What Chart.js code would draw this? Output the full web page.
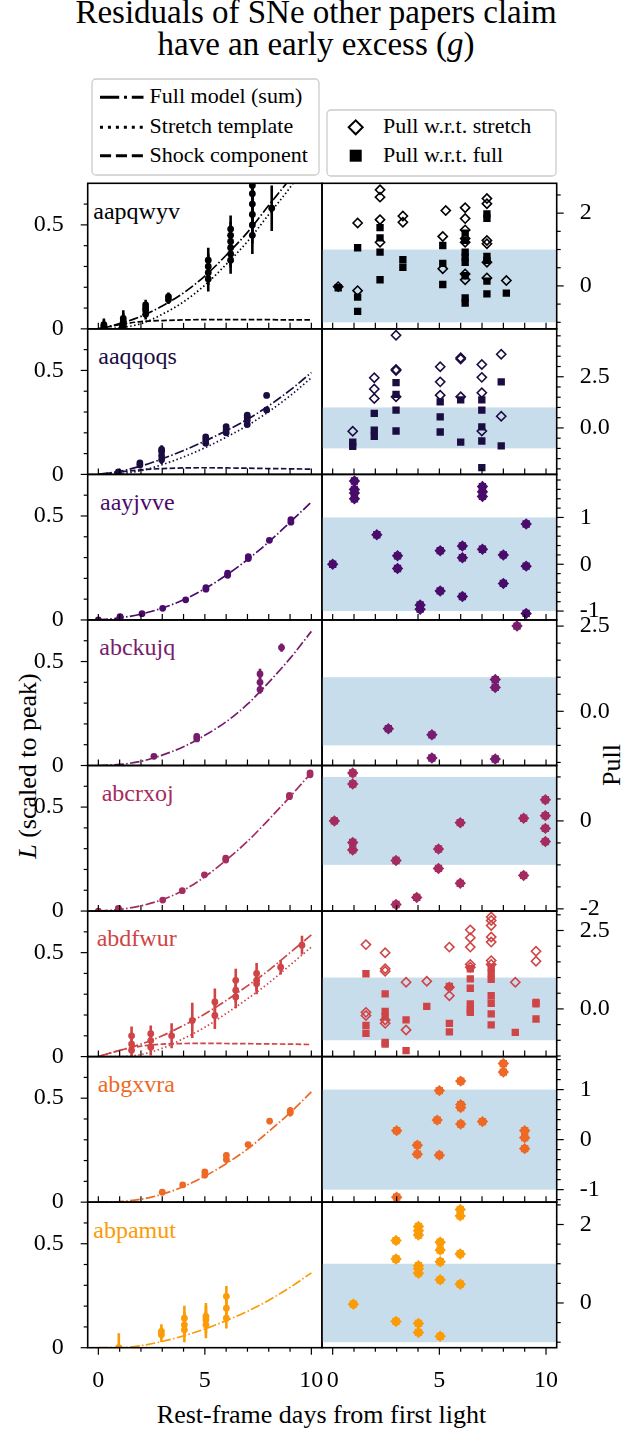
<!DOCTYPE html>
<html><head><meta charset="utf-8">
<script src="https://cdn.jsdelivr.net/npm/chart.js"></script>
<style>
html,body{margin:0;padding:0;background:#fff;}
body{width:639px;height:1433px;position:relative;overflow:hidden;font-family:'Liberation Serif','DejaVu Serif',serif;color:#000;}
canvas{position:absolute;}
.t{position:absolute;white-space:nowrap;color:#000;}
</style></head><body>
<div class="t" style="left:0;width:632px;top:-3.8px;font-size:33px;line-height:32px;text-align:center">Residuals of SNe other papers claim<br>have an early excess (<i>g</i>)</div>
<svg style="position:absolute;left:0;top:0" width="639" height="190">
  <rect x="92" y="79" width="227" height="96" rx="4" ry="4" fill="#fff" stroke="#cccccc" stroke-width="1.3"/>
  <line x1="100" y1="97.3" x2="143.5" y2="97.3" stroke="#000" stroke-width="3" stroke-dasharray="19.2 4.8 3 4.8"/>
  <line x1="100" y1="127.3" x2="143.5" y2="127.3" stroke="#000" stroke-width="3" stroke-dasharray="3 4.95"/>
  <line x1="100" y1="155.7" x2="143.5" y2="155.7" stroke="#000" stroke-width="3" stroke-dasharray="11.1 4.8"/>
  <rect x="327" y="110" width="229" height="66" rx="4" ry="4" fill="#fff" stroke="#cccccc" stroke-width="1.3"/>
  <polygon points="348.7,127.3 355.7,120.3 362.7,127.3 355.7,134.3" fill="none" stroke="#000" stroke-width="2"/>
  <rect x="349.7" y="149.7" width="12" height="12" fill="#000"/>
</svg>
<div class="t" style="left:149.6px;top:84.9px;font-size:22px;line-height:22px">Full model (sum)</div>
<div class="t" style="left:149.6px;top:114.9px;font-size:22px;line-height:22px">Stretch template</div>
<div class="t" style="left:149.6px;top:144.1px;font-size:22px;line-height:22px">Shock component</div>
<div class="t" style="left:383px;top:114.9px;font-size:22px;line-height:22px">Pull w.r.t. stretch</div>
<div class="t" style="left:383px;top:144.1px;font-size:22px;line-height:22px">Pull w.r.t. full</div>
<div class="t" style="left:321.5px;top:1402.2px;font-size:26px;line-height:26px;transform:translateX(-50%)">Rest-frame days from first light</div>
<div class="t" style="left:28px;top:766px;font-size:26px;line-height:26px;transform:translate(-50%,-50%) rotate(-90deg)"><i>L</i> (scaled to peak)</div>
<div class="t" style="left:612px;top:765px;font-size:26px;line-height:26px;transform:translate(-50%,-50%) rotate(-90deg)">Pull</div>
<div id="names"></div>
<script>
// ---------------- DATA ----------------
const names = ['aapqwyv','aaqqoqs','aayjvve','abckujq','abcrxoj','abdfwur','abgxvra','abpamut'];
const colors = ['#000004','#1b0c41','#4a0c6b','#781c6d','#a52c60','#cf4446','#ed6925','#fb9b06'];
const days = [0,1,2,3,4,5,6,7,8,9,10];
const dayTicks = [0,1,2,3,4,5,6,7,8,9,10];
const dayLabels = {'0':'0','5':'5','10':'10'};
const lumTicks = [0,0.1,0.2,0.3,0.4,0.5,0.6];
const lumLabels = {'0':'0','0.5':'0.5'};
const band = [-1, 1];

// Row 1: aapqwyv
const r1_t   = [0.26,0.26, 1.17,1.17,1.17,1.17, 2.22,2.22,2.22,2.22, 3.29,3.29, 5.16,5.16,5.16,5.16, 6.21,6.21,6.21,6.21,6.21,6.21, 7.23,7.23,7.23,7.23,7.23,7.23, 8.14];
const r1_L   = [0.01,0.02, 0.01,0.02,0.035,0.05, 0.07,0.09,0.10,0.115, 0.14,0.155, 0.24,0.27,0.30,0.33, 0.33,0.36,0.39,0.42,0.45,0.48, 0.45,0.50,0.55,0.60,0.65,0.69, 0.58];
const r1_err = [0.03,0.03, 0.04,0.04,0.04,0.04, 0.025,0.025,0.025,0.025, 0.02,0.02, 0.06,0.06,0.06,0.06, 0.065,0.065,0.065,0.065,0.065,0.065, 0.09,0.09,0.09,0.09,0.09,0.09, 0.11];
const r1_full    = [0, 0.025, 0.06, 0.11, 0.173, 0.254, 0.354, 0.464, 0.594, 0.723, 0.873];
const r1_stretch = [0, 0.005, 0.025, 0.07, 0.13, 0.21, 0.31, 0.42, 0.55, 0.68, 0.83];
const r1_shock   = [0, 0.02, 0.035, 0.04, 0.043, 0.044, 0.044, 0.044, 0.044, 0.043, 0.043];
const r1_dia_t = [0.26, 1.17,1.17, 2.22,2.22,2.22,2.22, 3.29,3.29, 5.3,5.16,5.16, 6.21,6.21,6.21,6.21,6.21,6.21,6.21, 7.23,7.23,7.23,7.23,7.23,7.23, 8.14];
const r1_dia   = [-0.02, 1.73,-0.13, 2.64,2.44,1.82,1.2, 1.92,1.75, 2.07,1.36,0.47, 2.15,1.85,1.54,1.3,1.2,0.33,0.17, 2.4,2.26,1.25,1.16,0.65,0.22, 0.15];
const r1_sq_t  = [0.26, 1.17,1.17,1.17, 2.22,2.22,2.22,2.22, 3.29,3.29, 5.16,5.16,5.16, 6.21,6.21,6.21,6.21,6.21,6.21,6.21,6.21, 7.23,7.23,7.23,7.23,7.23,7.23, 8.14];
const r1_sq    = [-0.05, 1.05,-0.31,-0.7, 1.6,1.32,0.93,0.17, 0.72,0.51, 1.11,0.62,0.04, 1.45,1.25,0.93,0.79,0.65,0.28,-0.33,-0.47, 1.98,1.86,0.81,0.7,0.13,-0.22, -0.2];
const r1_range = [-1.18, 2.82];
const r1_pticks = [-1,-0.5,0,0.5,1,1.5,2,2.5];
const r1_plabels = {'0':'0','2':'2'};

// Row 2: aaqqoqs
const r2_t   = [0.94,0.94, 1.95,1.95, 2.97,2.97,2.97,2.97, 5.04,5.04,5.04, 6.0,6.0,6.0, 6.99,6.99,6.99,6.99, 7.9,7.9];
const r2_L   = [0.005,0.012, 0.045,0.055, 0.07,0.09,0.11,0.12, 0.15,0.165,0.18, 0.2,0.215,0.23, 0.24,0.26,0.275,0.285, 0.31,0.38];
const r2_err = [0.01,0.01, 0.012,0.012, 0.02,0.02,0.02,0.02, 0.012,0.012,0.012, 0.012,0.012,0.012, 0.012,0.012,0.012,0.012, 0.012,0.012];
const r2_full    = [0, 0.015, 0.04, 0.075, 0.115, 0.16, 0.21, 0.265, 0.33, 0.405, 0.49];
const r2_stretch = [0, 0.003, 0.018, 0.047, 0.084, 0.128, 0.179, 0.235, 0.302, 0.378, 0.465];
const r2_shock   = [0, 0.012, 0.022, 0.028, 0.031, 0.032, 0.031, 0.03, 0.028, 0.027, 0.025];
const r2_dia_t = [0.94, 1.95,1.95,1.95, 2.97,2.97,2.97,2.97, 5.04,5.04,5.04, 6.0,6.0,6.0, 6.99,6.99,6.99,6.99, 7.9,7.9];
const r2_dia   = [-0.16, 2.45,1.9,1.44, 4.53,2.86,2.8,1.52, 2.99,2.25,1.6, 3.43,3.37,1.52, 3.1,2.47,1.72,-0.15, 3.6,0.57];
const r2_sq_t  = [0.94,0.94, 1.95,1.95,1.95, 2.97,2.97,2.97,2.97, 5.04,5.04,5.04, 6.0,6.0, 6.99,6.99,6.99,6.99,6.99, 7.9,7.9];
const r2_sq    = [-0.69,-0.9, 0.71,-0.11,-0.41, 2.21,1.64,0.87,-0.15, 1.27,0.54,-0.2, 1.37,-0.69, 1.37,0.87,0.05,-0.64,-1.94, 2.25,-0.88];
const r2_range = [-2.27, 4.84];
const r2_pticks = [-2,-1.5,-1,-0.5,0,0.5,1,1.5,2,2.5,3,3.5,4,4.5];
const r2_plabels = {'0':'0.0','2.5':'2.5'};

// Row 3: aayjvve
const r3_t   = [0.0, 1.02,1.02, 2.05, 3.02, 4.1, 5.05,5.05, 6.07,6.07, 7.04,7.04, 8.03, 9.04,9.04];
const r3_L   = [0.0, 0.013,0.016, 0.03, 0.056, 0.097, 0.148,0.155, 0.215,0.225, 0.295,0.305, 0.383, 0.47,0.482];
const r3_err = [0.004, 0.004,0.004, 0.004, 0.005, 0.006, 0.008,0.008, 0.01,0.01, 0.01,0.01, 0.008, 0.01,0.01];
const r3_full = [0, 0.01, 0.028, 0.057, 0.097, 0.15, 0.215, 0.29, 0.375, 0.47, 0.567];
const r3_pull_t = [0.0, 1.02,1.02,1.02,1.02, 2.07, 3.04,3.04, 4.1,4.1, 5.04,5.04, 6.08,6.08,6.08, 7.02,7.02,7.02,7.02, 8.0,8.0, 9.07,9.07,9.07];
const r3_pull   = [0.0, 1.78,1.6,1.52,1.4, 0.63, 0.18,-0.09, -0.87,-0.96, 0.29,-0.57, 0.39,0.14,-0.69, 1.66,1.55,1.45,0.32, 0.2,-0.41, 0.86,-0.04,-1.05];
const r3_range = [-1.19, 1.92];
const r3_pticks = [-1,-0.8,-0.6,-0.4,-0.2,0,0.2,0.4,0.6,0.8,1,1.2,1.4,1.6,1.8];
const r3_plabels = {'-1':'-1','0':'0','1':'1'};

// Row 4: abckujq
const r4_t   = [2.61, 4.62,4.62, 7.59,7.59,7.59, 8.6];
const r4_L   = [0.044, 0.128,0.14, 0.44,0.40,0.365, 0.567];
const r4_err = [0.008, 0.015,0.015, 0.025,0.025,0.02, 0.02];
const r4_full = [0, 0.005, 0.02, 0.05, 0.09, 0.145, 0.21, 0.295, 0.4, 0.515, 0.645];
const r4_pull_t = [2.61, 4.65,4.65, 7.62,7.62,7.62, 8.64];
const r4_pull   = [-0.51, -0.69,-1.37, 0.93,0.7,-1.4, 2.5];
const r4_range = [-1.59, 2.68];
const r4_pticks = [-1.5,-1,-0.5,0,0.5,1,1.5,2,2.5];
const r4_plabels = {'0':'0.0','2.5':'2.5'};

// Row 5: abcrxoj
const r5_t   = [0.0, 0.94,0.94, 3.02, 3.94, 4.98, 5.98,5.98, 8.97,8.97, 9.94,9.94];
const r5_L   = [0.0, 0.01,0.013, 0.053, 0.098, 0.174, 0.245,0.255, 0.55,0.556, 0.655,0.665];
const r5_err = [0.004, 0.004,0.004, 0.006, 0.006, 0.008, 0.01,0.01, 0.01,0.01, 0.01,0.01];
const r5_full = [0, 0.008, 0.025, 0.055, 0.1, 0.165, 0.245, 0.335, 0.44, 0.55, 0.665];
const r5_pull_t = [0.08, 0.94,0.94,0.94,0.94, 2.97,2.97, 3.94, 4.96,4.96, 5.98,5.98, 8.95,8.95, 9.97,9.97,9.97,9.97];
const r5_pull   = [0.0, 1.09,0.84,-0.49,-0.66, -0.9,-1.9, -1.74, -0.64,-1.08, -0.04,-1.42, 0.06,-1.24, 0.48,0.12,-0.17,-0.47];
const r5_range = [-2.05, 1.26];
const r5_pticks = [-2,-1.5,-1,-0.5,0,0.5,1];
const r5_plabels = {'-2':'-2','0':'0'};

// Row 6: abdfwur
const r6_t   = [1.56,1.56,1.56, 2.46,2.46,2.46, 3.44, 4.41, 5.47,5.47, 6.45,6.45,6.45, 7.43,7.43,7.43, 8.56, 9.56];
const r6_L   = [0.1,0.06,0.03, 0.11,0.077,0.045, 0.1, 0.174, 0.263,0.198, 0.367,0.319,0.287, 0.4,0.367,0.35, 0.43, 0.536];
const r6_err = [0.045,0.045,0.045, 0.04,0.04,0.04, 0.06, 0.085, 0.065,0.065, 0.055,0.055,0.055, 0.05,0.05,0.05, 0.035, 0.045];
const r6_full    = [0, 0.03, 0.06, 0.1, 0.15, 0.205, 0.27, 0.34, 0.415, 0.5, 0.585];
const r6_stretch = [0, 0, 0.01, 0.04, 0.087, 0.141, 0.207, 0.278, 0.354, 0.44, 0.527];
const r6_shock   = [0, 0.03, 0.05, 0.06, 0.063, 0.064, 0.063, 0.062, 0.061, 0.06, 0.058];
const r6_dia_t = [1.56,1.56,1.56, 2.46,2.46,2.46,2.46,2.46, 3.44,3.44, 4.41, 5.47,5.47,5.47, 6.45,6.45,6.45,6.45,6.45, 7.43,7.43,7.43,7.43,7.43,7.43,7.43, 8.56, 9.53,9.53];
const r6_dia   = [2.05,-0.11,-0.21, 1.79,1.28,1.2,-0.35,-0.46, 0.85,-0.67, 0.88, 1.97,0.69,0.42, 2.52,2.27,1.97,1.42,1.33, 2.93,2.82,2.66,2.29,2.13,1.54,1.42, 0.85, 1.84,1.52];
const r6_sq_t  = [1.56,1.56,1.56, 2.46,2.46,2.46,2.46,2.46, 3.44,3.44, 4.41, 5.47,5.47,5.47, 6.45,6.45,6.45,6.45,6.45,6.45, 7.43,7.43,7.43,7.43,7.43,7.43,7.43, 8.56, 9.53,9.53,9.53];
const r6_sq    = [1.12,-0.53,-0.78, 0.48,-0.08,-0.25,-1.07,-1.12, -0.35,-1.33, 0.08, 0.72,-0.46,-0.73, 1.28,0.96,0.66,0.16,-0.03,-0.11, 1.33,1.14,0.94,0.42,0.18,-0.16,-0.51, -0.75, 0.21,0.16,-0.32];
const r6_range = [-1.52, 3.12];
const r6_pticks = [-1.5,-1,-0.5,0,0.5,1,1.5,2,2.5,3];
const r6_plabels = {'0':'0.0','2.5':'2.5'};

// Row 7: abgxvra
const r7_t   = [3.0, 3.96, 5.0,5.0, 6.01,6.01, 7.03, 8.04, 9.01,9.01];
const r7_L   = [0.048, 0.083, 0.13,0.145, 0.205,0.225, 0.277, 0.39, 0.43,0.44];
const r7_err = [0.015, 0.01, 0.015,0.015, 0.015,0.015, 0.012, 0.015, 0.018,0.018];
const r7_full = [0, 0.003, 0.014, 0.038, 0.075, 0.125, 0.185, 0.255, 0.34, 0.43, 0.53];
const r7_pull_t = [3.0,3.0, 3.97,3.97, 4.9,5.0,5.0, 6.0,6.0,6.0,6.0, 7.02, 8.0,8.0, 9.0,9.0,9.0];
const r7_pull   = [0.18,-1.15, -0.11,-0.29, 0.39,0.98,-0.31, 1.17,0.7,0.64,0.31, 0.36, 1.52,1.35, 0.18,0.04,-0.18];
const r7_range = [-1.25, 1.66];
const r7_pticks = [-1.2,-1,-0.8,-0.6,-0.4,-0.2,0,0.2,0.4,0.6,0.8,1,1.2,1.4,1.6];
const r7_plabels = {'-1':'-1','0':'0','1':'1'};

// Row 8: abpamut
const r8_t   = [0.96, 2.96,2.96, 4.04,4.04,4.04, 5.05,5.05,5.05, 6.01,6.01,6.01];
const r8_L   = [0.0, 0.078,0.062, 0.142,0.11,0.086, 0.15,0.134,0.11, 0.247,0.19,0.142];
const r8_err = [0.07, 0.035,0.035, 0.06,0.06,0.06, 0.065,0.065,0.065, 0.05,0.05,0.05];
const r8_full = [0, 0, 0.01, 0.03, 0.057, 0.09, 0.13, 0.175, 0.228, 0.29, 0.36];
const r8_pull_t = [0.97, 2.97,2.97,2.97, 4.02,4.02,4.02,4.02,4.02,4.02,4.02,4.02, 5.04,5.04,5.04,5.04,5.04, 5.98,5.98,5.98,5.98];
const r8_pull   = [-0.03, 1.59,1.12,-0.47, 1.95,1.84,1.73,0.95,0.87,0.76,-0.52,-0.75, 1.55,1.35,1.05,0.59,-0.85, 2.38,2.22,1.25,0.48];
const r8_range = [-1.14, 2.57];
const r8_pticks = [-1,-0.5,0,0.5,1,1.5,2,2.5];
const r8_plabels = {'0':'0','2':'2'};

// ---------------- LAYOUT / STYLE ----------------
const ROW0 = 183.3, ROWH = 145.55;
const LX0 = 87.7, MID = 322.0, RX1 = 556.7;
const nameX = [93.3, 98.3, 100, 99.3, 101.7, 96.7, 97.7, 93.3];
const FONT = "'Liberation Serif', 'DejaVu Serif', serif";
Chart.defaults.font.family = FONT;
Chart.defaults.font.size = 24;
Chart.defaults.color = '#000';
Chart.defaults.animation = false;

const DASHDOT = [9.6, 2.4, 1.5, 2.4], DOTTED = [1.5, 2.5], DASHED = [5.55, 2.4];

const panels = [
  {t:r1_t,L:r1_L,err:r1_err,full:r1_full,stretch:r1_stretch,shock:r1_shock,diaT:r1_dia_t,dia:r1_dia,sqT:r1_sq_t,sq:r1_sq,range:r1_range,pt:r1_pticks,pl:r1_plabels},
  {t:r2_t,L:r2_L,err:r2_err,full:r2_full,stretch:r2_stretch,shock:r2_shock,diaT:r2_dia_t,dia:r2_dia,sqT:r2_sq_t,sq:r2_sq,range:r2_range,pt:r2_pticks,pl:r2_plabels},
  {t:r3_t,L:r3_L,err:r3_err,full:r3_full,diaT:r3_pull_t,dia:r3_pull,sqT:r3_pull_t,sq:r3_pull,range:r3_range,pt:r3_pticks,pl:r3_plabels},
  {t:r4_t,L:r4_L,err:r4_err,full:r4_full,diaT:r4_pull_t,dia:r4_pull,sqT:r4_pull_t,sq:r4_pull,range:r4_range,pt:r4_pticks,pl:r4_plabels},
  {t:r5_t,L:r5_L,err:r5_err,full:r5_full,diaT:r5_pull_t,dia:r5_pull,sqT:r5_pull_t,sq:r5_pull,range:r5_range,pt:r5_pticks,pl:r5_plabels},
  {t:r6_t,L:r6_L,err:r6_err,full:r6_full,stretch:r6_stretch,shock:r6_shock,diaT:r6_dia_t,dia:r6_dia,sqT:r6_sq_t,sq:r6_sq,range:r6_range,pt:r6_pticks,pl:r6_plabels},
  {t:r7_t,L:r7_L,err:r7_err,full:r7_full,diaT:r7_pull_t,dia:r7_pull,sqT:r7_pull_t,sq:r7_pull,range:r7_range,pt:r7_pticks,pl:r7_plabels},
  {t:r8_t,L:r8_L,err:r8_err,full:r8_full,diaT:r8_pull_t,dia:r8_pull,sqT:r8_pull_t,sq:r8_pull,range:r8_range,pt:r8_pticks,pl:r8_plabels}
];

const mpl = {
  id: 'mpl',
  beforeDatasetsDraw(chart, args, o) {
    const {ctx, chartArea: a, scales: {x, y}} = chart;
    ctx.save();
    ctx.beginPath(); ctx.rect(a.left, a.top, a.right - a.left, a.bottom - a.top); ctx.clip();
    if (o.band) {
      const y1 = y.getPixelForValue(o.band[1]), y0 = y.getPixelForValue(o.band[0]);
      ctx.fillStyle = '#c7ddec';
      ctx.fillRect(a.left, y1, a.right - a.left, y0 - y1);
    }
    chart.data.datasets.forEach(ds => {
      if (!ds.errors) return;
      ctx.strokeStyle = ds.backgroundColor; ctx.lineWidth = 2.6;
      ds.data.forEach((p, k) => {
        const e = ds.errors[k], px = x.getPixelForValue(p.x);
        ctx.beginPath();
        ctx.moveTo(px, y.getPixelForValue(p.y - e));
        ctx.lineTo(px, y.getPixelForValue(p.y + e));
        ctx.stroke();
      });
    });
    ctx.restore();
  },
  afterDraw(chart, args, o) {
    const {ctx, chartArea: a, scales: {x, y}} = chart;
    ctx.save();
    ctx.strokeStyle = '#000'; ctx.lineWidth = 1.2;
    const ln = (x0, y0, x1, y1) => { ctx.beginPath(); ctx.moveTo(x0, y0); ctx.lineTo(x1, y1); ctx.stroke(); };
    x.ticks.forEach(t => {
      const px = x.getPixelForValue(t.value);
      const major = o.xMajor.includes(t.value);
      if (o.xDir === 'out') ln(px, a.bottom, px, a.bottom + (major ? 7 : 4));
      else ln(px, a.bottom, px, a.bottom - 6);
    });
    y.ticks.forEach(t => {
      const py = y.getPixelForValue(t.value);
      const len = o.yMajor.includes(t.value) ? 7 : 4;
      if (o.ySide === 'left') ln(a.left, py, a.left - len, py);
      else ln(a.right, py, a.right + len, py);
    });
    ctx.lineWidth = 1.6;
    ctx.strokeRect(a.left, a.top, a.right - a.left, a.bottom - a.top);
    ctx.restore();
  }
};

function mkCanvas(left, top, w, h) {
  const c = document.createElement('canvas');
  c.width = w; c.height = h;
  c.style.left = left + 'px'; c.style.top = top + 'px';
  c.style.width = w + 'px'; c.style.height = h + 'px';
  document.body.appendChild(c);
  return c;
}
function zeroPad(s) { s.paddingLeft = 0; s.paddingRight = 0; s.paddingTop = 0; s.paddingBottom = 0; }
function curve(vals, color, dash) {
  return {data: days.map((d, k) => ({x: d, y: vals[k]})), showLine: true, pointRadius: 0,
    borderColor: color, backgroundColor: color, borderWidth: 1.7, borderDash: dash,
    cubicInterpolationMode: 'monotone', fill: false, order: 1};
}
function xScale(isBottom, xH) {
  return {type: 'linear', position: 'bottom', min: -0.5, max: 10.5,
    grid: {display: false}, border: {display: false},
    ticks: {display: isBottom, autoSkip: false, maxRotation: 0, minRotation: 0, padding: 11,
      font: {family: FONT, size: 24}, color: '#000',
      callback: v => dayLabels[String(v)] || ''},
    afterBuildTicks: s => { s.ticks = dayTicks.map(v => ({value: v})); },
    afterFit: s => { s.height = xH; zeroPad(s); }};
}

panels.forEach((p, i) => {
  const color = colors[i];
  const top = ROW0 + i * ROWH, bot = top + ROWH;
  const cTop = Math.floor(top) - 14;
  const cH = Math.ceil(bot) - cTop + 46;
  const xH = cTop + cH - bot;
  const padTop = top - cTop;
  const isBottom = i === 7;

  // left: light curve
  const lds = [{data: p.t.map((x, k) => ({x, y: p.L[k]})), errors: p.err, pointStyle: 'circle',
    pointRadius: 3.4, backgroundColor: color, borderWidth: 0, order: 0}];
  lds.push(curve(p.full, color, DASHDOT));
  if (p.stretch) lds.push(curve(p.stretch, color, DOTTED));
  if (p.shock) lds.push(curve(p.shock, color, DASHED));
  const lW = 345;
  new Chart(mkCanvas(0, cTop, lW, cH), {
    type: 'scatter', data: {datasets: lds}, plugins: [mpl],
    options: {responsive: false, animation: false, devicePixelRatio: 1, events: [],
      layout: {autoPadding: false, padding: {left: 0, right: lW - MID, top: padTop, bottom: 0}},
      plugins: {legend: {display: false}, tooltip: {enabled: false},
        mpl: {band: null, xDir: isBottom ? 'out' : 'in', xMajor: [0, 5, 10], ySide: 'left', yMajor: [0, 0.5]}},
      scales: {
        x: xScale(isBottom, xH),
        y: {type: 'linear', position: 'left', min: 0, max: 0.7,
          grid: {display: false}, border: {display: false},
          ticks: {autoSkip: false, padding: 16, font: {family: FONT, size: 24}, color: '#000',
            callback: v => lumLabels[String(v)] || ''},
          afterBuildTicks: s => { s.ticks = lumTicks.map(v => ({value: v})); },
          afterFit: s => { s.width = LX0; zeroPad(s); }}
      }}
  });

  // right: pulls
  const rLeft = 300, rW = 339;
  const rds = [
    {data: p.diaT.map((x, k) => ({x, y: p.dia[k]})), pointStyle: 'rectRot', pointRadius: 4.6,
      borderColor: color, borderWidth: 1.6, backgroundColor: 'rgba(0,0,0,0)', order: 0},
    {data: p.sqT.map((x, k) => ({x, y: p.sq[k]})), pointStyle: 'rect', pointRadius: 5.2,
      backgroundColor: color, borderColor: color, borderWidth: 0, order: 1}
  ];
  new Chart(mkCanvas(rLeft, cTop, rW, cH), {
    type: 'scatter', data: {datasets: rds}, plugins: [mpl],
    options: {responsive: false, animation: false, devicePixelRatio: 1, events: [],
      layout: {autoPadding: false, padding: {left: MID - rLeft, right: 0, top: padTop, bottom: 0}},
      plugins: {legend: {display: false}, tooltip: {enabled: false},
        mpl: {band: band, xDir: isBottom ? 'out' : 'in', xMajor: [0, 5, 10], ySide: 'right',
          yMajor: Object.keys(p.pl).map(Number)}},
      scales: {
        x: xScale(isBottom, xH),
        y: {type: 'linear', position: 'right', min: p.range[0], max: p.range[1],
          grid: {display: false}, border: {display: false},
          ticks: {autoSkip: false, padding: 15, font: {family: FONT, size: 24}, color: '#000',
            callback: v => p.pl[String(v)] || ''},
          afterBuildTicks: s => { s.ticks = p.pt.map(v => ({value: v})); },
          afterFit: s => { s.width = rLeft + rW - RX1; zeroPad(s); }}
      }}
  });

  // panel name
  const d = document.createElement('div');
  d.className = 't';
  d.style.cssText = `left:${nameX[i]}px;top:${top + 15.4}px;font-size:24px;line-height:24px;color:${color}`;
  d.textContent = names[i];
  document.getElementById('names').appendChild(d);
});
</script>
</body></html>
